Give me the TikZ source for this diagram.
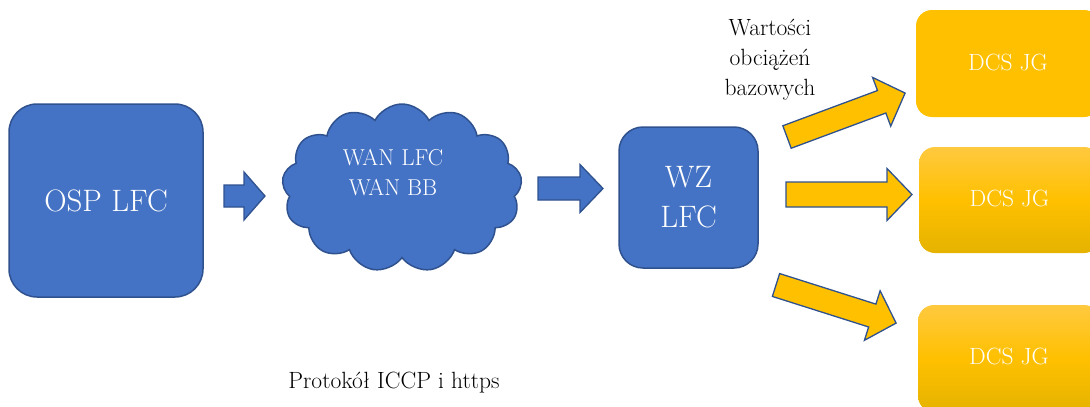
\documentclass[tikz,border=0pt]{standalone}
\usetikzlibrary{shapes.symbols}
\definecolor{bfill}{HTML}{4472C4}
\definecolor{bline}{HTML}{2F528F}
\definecolor{ofill}{HTML}{FFC000}
\definecolor{otop}{HTML}{FFC93F}
\definecolor{obot}{HTML}{E5B300}
\tikzset{
  bluebox/.style={draw=bline, fill=bfill, line width=1.5pt, rounded corners=28pt, inner sep=0pt, text=white, align=center},
  dcsbox/.style={rounded corners=16pt, inner sep=0pt, text=white, font=\fontsize{23.5}{26}\selectfont},
  dcsflat/.style={dcsbox, fill=ofill},
  dcsgrad/.style={dcsbox, top color=otop, bottom color=obot, middle color=ofill},
  bluearrow/.style={draw=bline, fill=bfill, line width=1.3pt, line join=miter},
  orangearrow/.style={draw=bline, fill=ofill, line width=1.3pt, line join=miter},
  plain/.style={inner sep=0pt, align=center, font=\fontsize{23.5}{30}\selectfont}
}
% x y angle length halfshaft halfhead headlength style
\newcommand\blockarr[8]{%
  \draw[#8, shift={(#1,#2)}, rotate=#3] (0,-#5) -- ({#4-#7},-#5) -- ({#4-#7},-#6) -- (#4,0) -- ({#4-#7},#6) -- ({#4-#7},#5) -- (0,#5) -- cycle;}
\begin{document}
\begin{tikzpicture}[x=1pt,y=-1pt]
\useasboundingbox (0,0) rectangle (1090,407);
\clip (0,0) rectangle (1090,407);
% main nodes
\node[bluebox, minimum width=194pt, minimum height=193pt, font=\fontsize{31}{38}\selectfont] (osp) at (106,200.5) {OSP LFC};
\node[cloud, cloud puffs=13, cloud puff arc=125, aspect=1.45, draw=bline, fill=bfill, line width=1.5pt, minimum width=240pt, minimum height=168pt, inner sep=0pt] (wan) at (402,188) {};
\node[plain, text=white, font=\fontsize{23}{30}\selectfont] (wantxt) at (393,173) {WAN LFC\\WAN BB};
\node[bluebox, rounded corners=24pt, minimum width=139pt, minimum height=141pt, font=\fontsize{31}{40}\selectfont] (wz) at (688.5,197.5) {WZ\\LFC};
\node[dcsflat, minimum width=184pt, minimum height=107pt] (dcs1) at (1008,63.5) {\raisebox{3pt}{DCS JG}};
\node[dcsgrad, minimum width=181pt, minimum height=106pt] (dcs2) at (1009.5,200) {\raisebox{3pt}{DCS JG}};
\node[dcsgrad, minimum width=182pt, minimum height=107pt] (dcs3) at (1009,358.5) {\raisebox{4pt}{DCS JG}};
% labels
\node[plain] (wart) at (770,60) {Wartości\\obciążeń\\bazowych};
\node[plain] (proto) at (394,383) {Protokół ICCP i https};
% block arrows
\blockarr{224}{196}{0}{41}{11}{24}{21}{bluearrow}
\blockarr{538}{188.5}{0}{65}{11.5}{24}{23}{bluearrow}
\blockarr{787}{137}{20.4}{126}{12}{26}{25}{orangearrow}
\blockarr{786}{194.5}{0}{126}{12.5}{26}{25}{orangearrow}
\blockarr{776}{285}{-17.6}{126}{12}{26}{25}{orangearrow}
\end{tikzpicture}
\end{document}
